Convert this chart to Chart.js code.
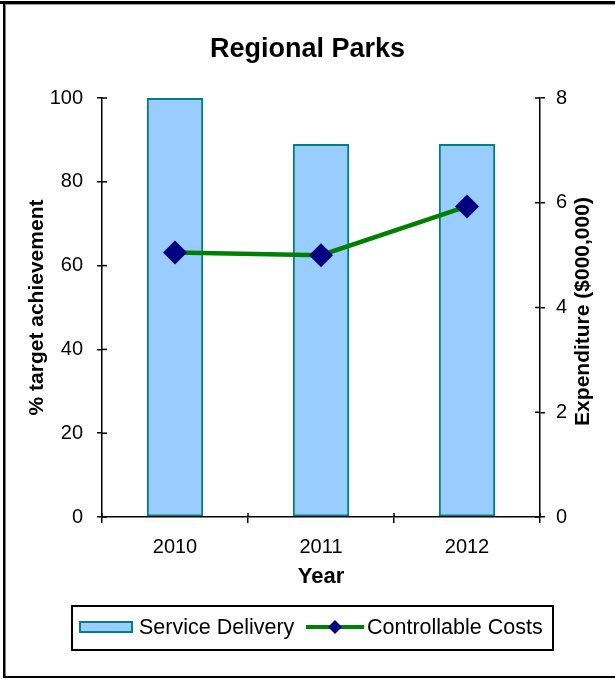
<!DOCTYPE html>
<html><head><meta charset="utf-8">
<script src="https://cdn.jsdelivr.net/npm/chart.js@4/dist/chart.umd.min.js"></script>
<style>html,body{margin:0;padding:0;background:#fff}#wrap{width:615px;height:679px;position:relative}</style>
</head><body><div id="wrap"><canvas id="c" width="615" height="679"></canvas></div>
<script>
const categories = ['2010', '2011', '2012'];
const serviceDelivery = [100, 89, 89];
const controllableCosts = [5.05, 5.0, 5.93];
const leftTicks = [0, 20, 40, 60, 80, 100];
const rightTicks = [0, 2, 4, 6, 8];
const chartTitle = 'Regional Parks';
const xTitle = 'Year';
const yLeftTitle = '% target achievement';
const yRightTitle = 'Expenditure ($000,000)';
const seriesNames = ['Service Delivery', 'Controllable Costs'];

const FONT = "'Liberation Sans', Arial, sans-serif";
const barFill = '#99CCFF', barBorder = '#008080', lineColor = '#008000', markerColor = '#000080';

const decor = {
  id: 'decor',
  beforeDraw(chart) {
    const ctx = chart.ctx;
    ctx.save();
    ctx.fillStyle = '#fff';
    ctx.fillRect(0, 0, chart.width, chart.height);
    ctx.fillStyle = '#000';
    ctx.fillRect(0, 1, chart.width, 3);   // top frame
    ctx.fillRect(3, 1, 2.5, 677);         // left frame
    ctx.fillRect(3, 676, chart.width, 2); // bottom frame
    ctx.fillStyle = '#999';
    ctx.fillRect(5.5, 4, chart.width, 1);
    ctx.restore();
  },
  afterDraw(chart) {
    const ctx = chart.ctx;
    const {x, y, y1} = chart.scales;
    ctx.save();
    ctx.strokeStyle = '#000';
    ctx.lineWidth = 1.5;
    // inner halves of crossing tick marks
    y.ticks.forEach((t, i) => {
      const py = y.getPixelForTick(i);
      ctx.beginPath(); ctx.moveTo(y.right, py); ctx.lineTo(y.right + 5, py); ctx.stroke();
    });
    y1.ticks.forEach((t, i) => {
      const py = y1.getPixelForTick(i);
      ctx.beginPath(); ctx.moveTo(y1.left - 5, py); ctx.lineTo(y1.left, py); ctx.stroke();
    });
    const n = categories.length;
    for (let i = 0; i <= n; i++) {
      const px = x.left + i * x.width / n;
      ctx.beginPath(); ctx.moveTo(px, x.top - 4); ctx.lineTo(px, x.top); ctx.stroke();
    }
    // right axis title, reading bottom to top
    ctx.fillStyle = '#000';
    ctx.font = 'bold 21px ' + FONT;
    ctx.textAlign = 'center';
    ctx.textBaseline = 'middle';
    ctx.translate(583, (chart.chartArea.top + chart.chartArea.bottom) / 2 + 4);
    ctx.rotate(-Math.PI / 2);
    ctx.fillText(yRightTitle, 0, 0);
    ctx.restore();

    // legend
    ctx.save();
    ctx.strokeStyle = '#000';
    ctx.lineWidth = 2;
    ctx.strokeRect(72, 606, 481, 44);
    const cy = 627;
    ctx.fillStyle = barFill;
    ctx.fillRect(79, 621, 54, 12);
    ctx.strokeStyle = barBorder;
    ctx.lineWidth = 2;
    ctx.strokeRect(80, 622, 52, 10);
    ctx.fillStyle = '#000';
    ctx.font = '21.5px ' + FONT;
    ctx.textAlign = 'left';
    ctx.textBaseline = 'middle';
    ctx.fillText(seriesNames[0], 139, cy + 1);
    ctx.strokeStyle = lineColor;
    ctx.lineWidth = 4;
    ctx.beginPath(); ctx.moveTo(306, cy); ctx.lineTo(364, cy); ctx.stroke();
    ctx.fillStyle = markerColor;
    ctx.beginPath();
    ctx.moveTo(335 - 7, cy); ctx.lineTo(335, cy - 7); ctx.lineTo(335 + 7, cy); ctx.lineTo(335, cy + 7);
    ctx.closePath(); ctx.fill();
    ctx.fillStyle = '#000';
    ctx.fillText(seriesNames[1], 367, cy + 1);
    ctx.restore();
  }
};

new Chart(document.getElementById('c'), {
  type: 'bar',
  data: {
    labels: categories,
    datasets: [
      {
        type: 'line',
        label: seriesNames[1],
        data: controllableCosts,
        yAxisID: 'y1',
        borderColor: lineColor,
        borderWidth: 4.5,
        tension: 0,
        fill: false,
        pointStyle: 'rectRot',
        pointRadius: 12,
        pointHoverRadius: 12,
        pointBackgroundColor: markerColor,
        pointBorderColor: markerColor,
        pointBorderWidth: 0,
        order: 1
      },
      {
        type: 'bar',
        label: seriesNames[0],
        data: serviceDelivery,
        yAxisID: 'y',
        backgroundColor: barFill,
        borderColor: barBorder,
        borderWidth: 2,
        borderSkipped: false,
        categoryPercentage: 1,
        barPercentage: 0.385,
        order: 2
      }
    ]
  },
  options: {
    responsive: false,
    animation: false,
    devicePixelRatio: 1,
    layout: { padding: { top: 20, left: 0, right: 0, bottom: 87 } },
    plugins: {
      legend: { display: false },
      tooltip: { enabled: false },
      title: {
        display: true,
        text: chartTitle,
        color: '#000',
        font: { family: FONT, size: 27, weight: 'bold', lineHeight: 1.2 },
        padding: { top: 13, bottom: 32.6 }
      }
    },
    scales: {
      x: {
        offset: true,
        grid: { display: true, offset: true, drawOnChartArea: false, drawTicks: true, tickLength: 6, color: '#000', lineWidth: 1.5 },
        border: { display: true, color: '#000', width: 1.5 },
        ticks: { color: '#000', padding: 12, font: { family: FONT, size: 20 } },
        title: { display: true, text: xTitle, color: '#000', font: { family: FONT, size: 22, weight: 'bold', lineHeight: 1.2 }, padding: { top: 0, bottom: 2 } },
        afterFit: s => { s.height = 75; }
      },
      y: {
        position: 'left',
        min: 0, max: 100,
        afterBuildTicks: s => { s.ticks = leftTicks.map(v => ({ value: v })); },
        grid: { drawOnChartArea: false, drawTicks: true, tickLength: 5, color: '#000', lineWidth: 1.5 },
        border: { display: true, color: '#000', width: 1.5 },
        ticks: { color: '#000', padding: 14, font: { family: FONT, size: 20 } },
        title: { display: true, text: yLeftTitle, color: '#000', font: { family: FONT, size: 21, weight: 'bold', lineHeight: 1.2 }, padding: { top: 25, bottom: 0 } },
        afterFit: s => { s.width = 102; }
      },
      y1: {
        position: 'right',
        min: 0, max: 8,
        afterBuildTicks: s => { s.ticks = rightTicks.map(v => ({ value: v })); },
        grid: { drawOnChartArea: false, drawTicks: true, tickLength: 5, color: '#000', lineWidth: 1.5 },
        border: { display: true, color: '#000', width: 1.5 },
        ticks: { color: '#000', padding: 11, font: { family: FONT, size: 20 } },
        title: { display: false },
        afterFit: s => { s.width = 75; }
      }
    }
  },
  plugins: [decor]
});
</script>
</body></html>
